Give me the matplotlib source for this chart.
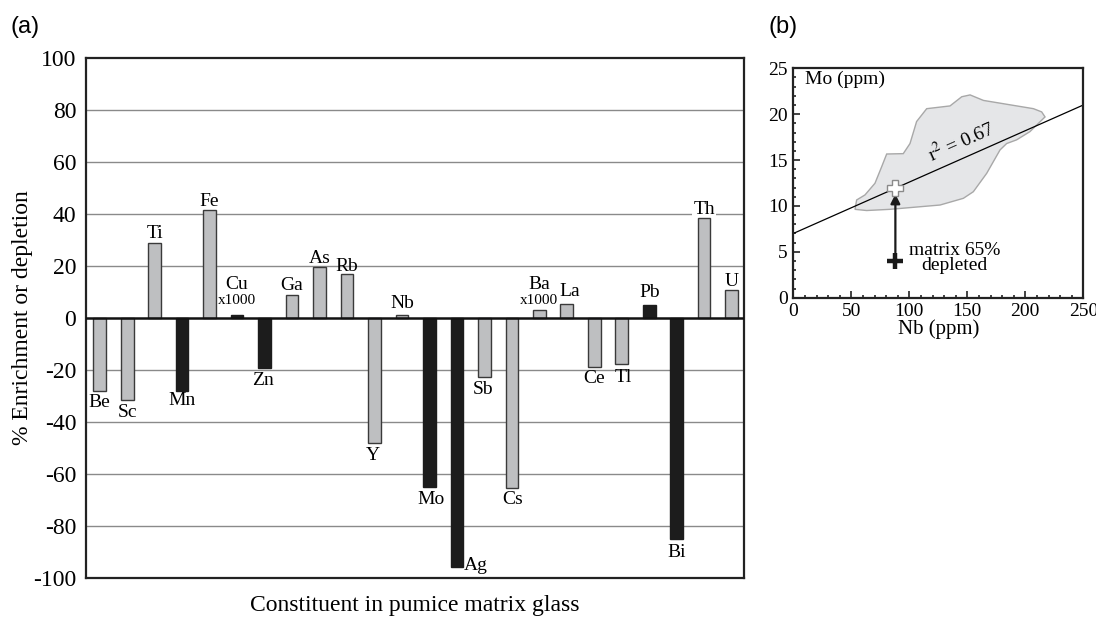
import matplotlib
matplotlib.use("Agg")
import matplotlib.pyplot as plt
from matplotlib.patches import Polygon
from matplotlib.ticker import MultipleLocator

# ---------------- data (panel a) ----------------
elements = ["Be", "Sc", "Ti", "Mn", "Fe", "Cu", "Zn", "Ga", "As", "Rb", "Y", "Nb",
            "Mo", "Ag", "Sb", "Cs", "Ba", "La", "Ce", "Tl", "Pb", "Bi", "Th", "U"]
values = [-28, -31.7, 29, -28, 41.7, 1.0, -19.1, 8.8, 19.6, 16.9, -48.2, 1.0,
          -65, -95.6, -22.8, -65.5, 3.1, 5.3, -18.7, -17.8, 5.0, -85.1, 38.3, 10.6]
dark = ["Mn", "Cu", "Zn", "Mo", "Ag", "Pb", "Bi"]
scaled = ["Cu", "Ba"]          # shown x1000
yticks_a = [-100, -80, -60, -40, -20, 0, 20, 40, 60, 80, 100]

# ---------------- data (panel b) ----------------
field_nb = [53.2, 54.6, 61.8, 70.4, 76.2, 80.5, 94.8, 100.6, 106.3, 115, 135.1, 145.2,
            152.4, 163.9, 207, 214.1, 217, 204, 192.5, 183.9, 178.2, 166.7, 155.2,
            146.6, 126.5, 83.3, 63.2]
field_mo = [9.63, 10.65, 11.2, 12.47, 14.28, 15.66, 15.7, 16.8, 19.2, 20.6, 20.9, 21.9,
            22.1, 21.5, 20.6, 20.25, 19.7, 18.1, 17.2, 16.8, 16.1, 13.55, 11.55,
            10.83, 10.1, 9.63, 9.5]
fit_nb = [0, 250]
fit_mo = [7, 21]
bulk_nb, bulk_mo = 88, 12.0
matrix_nb, matrix_mo = 88, 4.0

plt.rcParams["font.family"] = ["Liberation Serif", "DejaVu Serif"]
plt.rcParams["mathtext.fontset"] = "stix"
plt.rcParams["axes.unicode_minus"] = False

fig = plt.figure(figsize=(10.96, 6.19), dpi=100)
W, H = 1096, 619

# ---------------- panel a ----------------
ax = fig.add_axes([86 / W, 1 - 578 / H, 658 / W, 520 / H])
x = list(range(len(elements)))
gray = "#bebfc1"
colors = ["#1c1c1c" if e in dark else gray for e in elements]
edges = ["#1c1c1c" if e in dark else "#3a3a3a" for e in elements]
ax.bar(x, values, width=0.46, color=colors, edgecolor=edges, linewidth=1.0, zorder=3)
ax.set_xlim(-0.5, len(elements) - 0.55)
ax.set_ylim(-100, 100)
ax.set_yticks(yticks_a)
ax.set_xticks([])
for t in yticks_a:
    if t not in (-100, 0, 100):
        ax.axhline(t, color="#8a8a8a", lw=1.0, zorder=1)
ax.axhline(0, color="#111111", lw=1.8, zorder=4)
for s in ax.spines.values():
    s.set_linewidth(1.6)
    s.set_color("#222222")
ax.tick_params(axis="y", length=0, pad=7, labelsize=17)
ax.set_ylabel("% Enrichment or depletion", fontsize=17)
ax.yaxis.set_label_coords((33 - 86) / 658, 0.5)
ax.set_xlabel("Constituent in pumice matrix glass", fontsize=17, va="center")
ax.xaxis.set_label_coords(0.5, -(605 - 578) / 520)

# label offsets in pixels (dx, dy); dy positive = up
offs = {"Be": (-0.7, -12), "Sc": (0, -12.5), "Mn": (0, -10), "Zn": (-2, -13),
        "Y": (-1.5, -12), "Mo": (2, -12.5), "Ag": (19, 1.5), "Sb": (-1.4, -12.7),
        "Cs": (0.7, -11), "Ce": (-0.7, -12.3), "Tl": (1.3, -13), "Bi": (0.4, -13),
        "Ti": (0, 9), "Fe": (0, 8.5), "Cu": (0, 31), "Ga": (0, 10), "As": (0, 9),
        "Rb": (0, 8), "Nb": (0, 12), "Ba": (0, 25), "La": (2.5, 12.5),
        "Pb": (0, 12.3), "Th": (0, 8.5), "U": (0, 8.6)}
k = 72 / 100
for i, (e, v) in enumerate(zip(elements, values)):
    dx, dy = offs[e]
    bbox = dict(facecolor="white", edgecolor="none", pad=1.0) if e == "Th" else None
    ax.annotate(e, (i, v), xytext=(dx * k, dy * k), textcoords="offset points",
                ha="center", va="center", fontsize=14,
                zorder=2 if e == "Th" else 6, bbox=bbox)
    if e in scaled:
        ax.annotate("x1000", (i, v), xytext=(dx * k, (dy - 16) * k),
                    textcoords="offset points", ha="center", va="center",
                    fontsize=11, zorder=6)

fig.text(11 / W, 1 - 27 / H, "(a)", fontsize=17, family="Liberation Sans",
         ha="left", va="center")

# ---------------- panel b ----------------
bx = fig.add_axes([793.3 / W, 1 - 297.7 / H, 290 / W, 229.4 / H])
bx.add_patch(Polygon(list(zip(field_nb, field_mo)), closed=True,
                     facecolor="#e5e6e8", edgecolor="#a8a8a8", lw=1.0, zorder=1))
bx.plot(fit_nb, fit_mo, color="black", lw=0.9, zorder=2)
bx.annotate("", xy=(bulk_nb, 11.6), xytext=(matrix_nb, 4.6),
            arrowprops=dict(arrowstyle="-|>", color="#1a1a1a", lw=1.6,
                            mutation_scale=14), zorder=3)
bx.plot([bulk_nb], [bulk_mo], marker="P", ms=11, mfc="white", mec="#8a8a8a",
        mew=1.0, zorder=4)
bx.plot([matrix_nb], [matrix_mo], marker="+", ms=12, mew=3.2, color="#1a1a1a",
        zorder=4)
bx.text(145, 17.0, r"r$^2$ = 0.67", rotation=24, rotation_mode="anchor",
        ha="center", va="center", fontsize=14)
bx.text(139, 4.3, "matrix 65%\ndepleted", ha="center", va="center", fontsize=14,
        linespacing=0.85)
bx.text(0.04, 0.953, "Mo (ppm)", transform=bx.transAxes, ha="left", va="center",
        fontsize=14)
bx.set_xlim(0, 250)
bx.set_ylim(0, 25)
bx.xaxis.set_major_locator(MultipleLocator(50))
bx.xaxis.set_minor_locator(MultipleLocator(10))
bx.yaxis.set_major_locator(MultipleLocator(5))
bx.yaxis.set_minor_locator(MultipleLocator(1))
bx.tick_params(which="both", direction="in", top=False, right=False,
               labelsize=14, width=1.2, color="#222222")
bx.tick_params(which="major", length=5, pad=4)
bx.tick_params(which="minor", length=2.5)
for s in bx.spines.values():
    s.set_linewidth(1.6)
    s.set_color("#222222")
bx.set_xlabel("Nb (ppm)", fontsize=15, labelpad=-1)

fig.text(768 / W, 1 - 27 / H, "(b)", fontsize=17, family="Liberation Sans",
         ha="left", va="center")

fig.savefig("out.png", dpi=100)
